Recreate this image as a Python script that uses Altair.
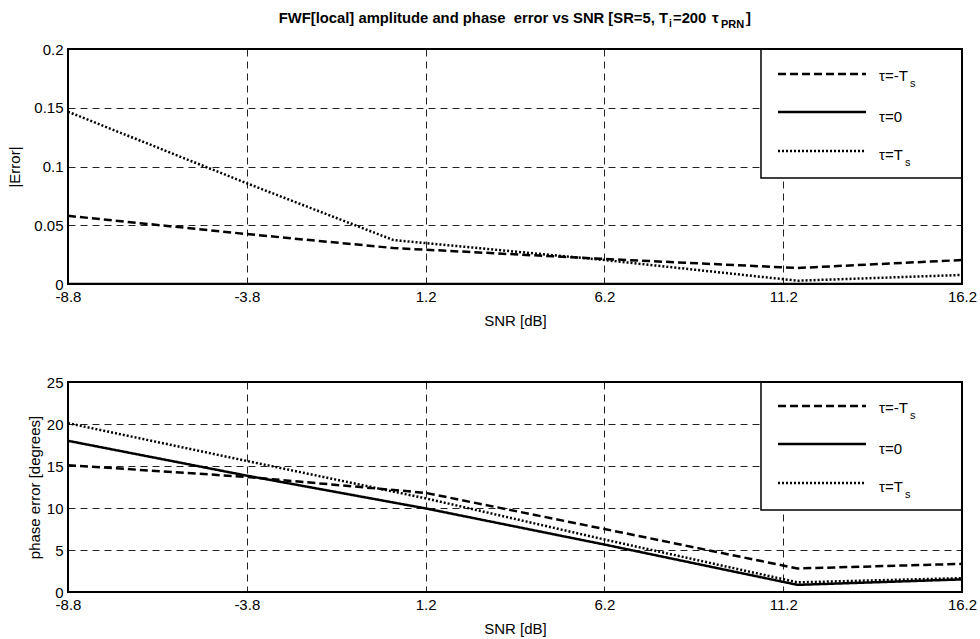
import altair as alt
import pandas as pd

# ---------------- data ----------------
snr_ticks = [-8.8, -3.8, 1.2, 6.2, 11.2, 16.2]
series = ["tau=-Ts", "tau=0", "tau=Ts"]
legend_labels = ["τ=-T", "τ=0", "τ=T"]
legend_subs = ["s", "", "s"]

amp_snr = [-8.8, -3.8, 0.3, 6.2, 11.6, 16.2]
amp_neg = [0.058, 0.0425, 0.0306, 0.0213, 0.0136, 0.0204]
amp_zero = [0.0, 0.0, 0.0, 0.0, 0.0, 0.0]
amp_pos = [0.1466, 0.0857, 0.0374, 0.0204, 0.0028, 0.0077]

ph_snr = [-8.8, -3.8, 1.2, 6.2, 11.6, 16.2]
ph_neg = [15.1, 13.7, 11.8, 7.5, 2.8, 3.35]
ph_zero = [18.0, 13.85, 9.95, 5.65, 0.85, 1.5]
ph_pos = [20.1, 15.6, 11.15, 6.25, 1.15, 1.65]

amp_ticks = [0, 0.05, 0.1, 0.15, 0.2]
ph_ticks = [0, 5, 10, 15, 20, 25]

# ---------------- style ----------------
FONT = "Liberation Sans, Arial, Helvetica, sans-serif"
W = 894
H1 = 235
H2 = 210
DASHES = [[8, 4], [1, 0], [2, 2]]
one = pd.DataFrame({"a": [0]})


def txt(s, x, y, size=15, bold=False, align="left", baseline="middle"):
    return alt.Chart(one).mark_text(
        text=s, font=FONT, fontSize=size,
        fontWeight="bold" if bold else "normal",
        align=align, baseline=baseline, color="#000",
    ).encode(x=alt.value(x), y=alt.value(y))


def spacer(x1, x2, y1, y2):
    return alt.Chart(one).mark_rect(opacity=0).encode(
        x=alt.value(x1), x2=alt.value(x2), y=alt.value(y1), y2=alt.value(y2)
    )


def panel(snr, vals, h, ymax, yticks, ytitle, title_x, legend_rows, legend_text_off):
    rows = []
    for s, v in zip(series, vals):
        for x, y in zip(snr, v):
            rows.append({"snr": x, "val": y, "series": s})
    df = pd.DataFrame(rows)

    xenc = alt.X(
        "snr:Q",
        scale=alt.Scale(domain=[-8.8, 16.2], nice=False, zero=False),
        axis=alt.Axis(
            values=snr_ticks, labelExpr="'' + datum.value", title="SNR [dB]",
            grid=True, gridDash=[7, 5], gridColor="#222", gridWidth=1,
            ticks=False, domain=False, labelFlush=False, labelOverlap=False,
            labelFont=FONT, labelFontSize=15, labelColor="#000", labelPadding=5,
            titleFont=FONT, titleFontSize=15, titleFontWeight="normal",
            titleColor="#000", titleY=36, titleBaseline="middle",
        ),
    )
    yenc = alt.Y(
        "val:Q",
        scale=alt.Scale(domain=[0, ymax], nice=False, zero=False),
        axis=alt.Axis(
            values=yticks, labelExpr="'' + datum.value", title=ytitle,
            grid=True, gridDash=[7, 5], gridColor="#222", gridWidth=1,
            ticks=False, domain=False, labelFlush=False, labelOverlap=False,
            labelFont=FONT, labelFontSize=15, labelColor="#000", labelPadding=5,
            titleFont=FONT, titleFontSize=15, titleFontWeight="normal",
            titleColor="#000", titleX=title_x, titleY=h / 2, titleAngle=-90,
            titleAlign="center", titleBaseline="middle",
        ),
    )
    lines = alt.Chart(df).mark_line(color="#000", strokeWidth=2.5, clip=True).encode(
        x=xenc, y=yenc,
        strokeDash=alt.StrokeDash(
            "series:N", scale=alt.Scale(domain=series, range=DASHES), legend=None
        ),
        detail="series:N",
    )
    frame = alt.Chart(one).mark_rect(fill=None, stroke="#000", strokeWidth=2).encode(
        x=alt.value(0), x2=alt.value(W), y=alt.value(0), y2=alt.value(h)
    )
    box = alt.Chart(one).mark_rect(fill="#fff", stroke="#000", strokeWidth=1.5).encode(
        x=alt.value(693), x2=alt.value(W), y=alt.value(0), y2=alt.value(129 if h == H1 else 128)
    )
    layers = [lines, box]
    for i, (ly, lab, sub) in enumerate(zip(legend_rows, legend_labels, legend_subs)):
        layers.append(
            alt.Chart(one).mark_rule(color="#000", strokeWidth=2.5, strokeDash=DASHES[i]).encode(
                x=alt.value(710), x2=alt.value(798), y=alt.value(ly), y2=alt.value(ly)
            )
        )
        ty = ly + legend_text_off[i]
        layers.append(txt(lab, 811, ty, size=15))
        if sub:
            layers.append(txt(sub, 842 if i == 0 else 837, ty + 8, size=11))
    layers.append(frame)
    return layers


top_layers = panel(
    amp_snr, [amp_neg, amp_zero, amp_pos], H1, 0.2, amp_ticks, "|Error|", -54,
    [25, 63, 102], [2, 5, 4],
)
title_layers = [
    txt("FWF[local] amplitude and phase\u00a0 error vs SNR [SR=5, T", 600, -26, 14.8, True, "right", "alphabetic"),
    txt("i", 601, -22, 10, True, "left", "alphabetic"),
    txt("=200", 605, -26, 14.8, True, "left", "alphabetic"),
    txt("τ", 644, -26, 14.8, True, "left", "alphabetic"),
    txt("PRN", 653, -21, 11, True, "left", "alphabetic"),
    txt("]", 678, -26, 14.8, True, "left", "alphabetic"),
]
top = alt.layer(spacer(-68, W + 18, -49, 0), *top_layers, *title_layers).properties(width=W, height=H1)

bottom_layers = panel(
    ph_snr, [ph_neg, ph_zero, ph_pos], H2, 25, ph_ticks, "phase error [degrees]", -34,
    [24, 62, 101], [2, 5, 4],
)
bottom = alt.layer(spacer(-68, W + 18, H2, H2 + 47), *bottom_layers).properties(width=W, height=H2)

chart = alt.vconcat(top, bottom, spacing=98, bounds="flush").properties(
    padding=0,
).configure_view(stroke=None)

chart.save("out.html", embed_options={"renderer": "svg", "actions": False})
